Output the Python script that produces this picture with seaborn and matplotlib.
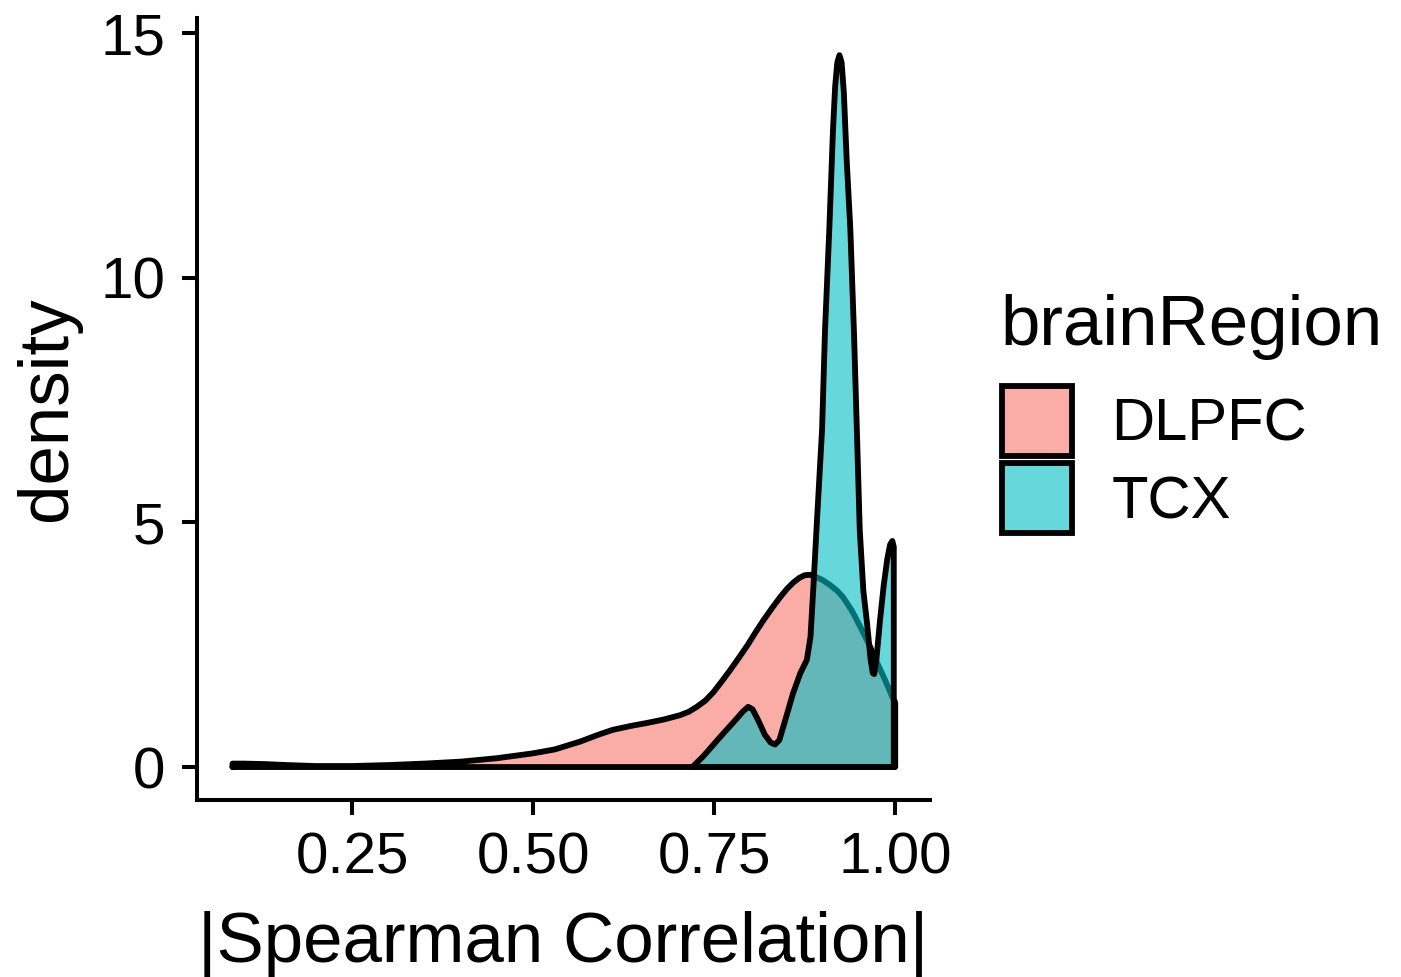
import numpy as np
import pandas as pd
import matplotlib
matplotlib.use("Agg")
import matplotlib.pyplot as plt
import seaborn as sns
from matplotlib.patches import Patch
from matplotlib.colors import to_rgba

# ---- data ----
regions = ["DLPFC", "TCX"]
region_colors = ["#F8766D", "#00BFC4"]

dlpfc_x = [0.085, 0.10, 0.13, 0.16, 0.20, 0.25, 0.30, 0.35, 0.40, 0.45, 0.50,
           0.53, 0.565, 0.59, 0.61, 0.635, 0.657, 0.68, 0.703, 0.715, 0.726,
           0.738, 0.749, 0.76, 0.772, 0.784, 0.796, 0.807, 0.818, 0.83, 0.841,
           0.851, 0.86, 0.868, 0.875, 0.882, 0.89, 0.90, 0.91, 0.92, 0.928,
           0.94, 0.952, 0.964, 0.975, 0.986, 0.996, 1.0]
dlpfc_y = [0.07, 0.07, 0.06, 0.04, 0.02, 0.02, 0.04, 0.07, 0.11, 0.18, 0.28,
           0.36, 0.52, 0.66, 0.76, 0.84, 0.90, 0.97, 1.06, 1.13, 1.23,
           1.36, 1.53, 1.74, 1.98, 2.23, 2.49, 2.75, 3.0, 3.25, 3.47,
           3.65, 3.78, 3.87, 3.92, 3.93, 3.89, 3.82, 3.72, 3.60, 3.47,
           3.20, 2.86, 2.50, 2.13, 1.78, 1.43, 1.32]

tcx_x = [0.72, 0.735, 0.758, 0.78, 0.79, 0.797, 0.803, 0.81, 0.82, 0.828,
         0.834, 0.84, 0.848, 0.859, 0.869, 0.878, 0.883, 0.887, 0.892, 0.899,
         0.903, 0.909, 0.914, 0.917, 0.920, 0.923, 0.926, 0.929, 0.933, 0.938,
         0.943, 0.947, 0.951, 0.956, 0.961, 0.966, 0.969, 0.971, 0.974, 0.979,
         0.984, 0.989, 0.993, 0.996, 0.998]
tcx_y = [0.0, 0.22, 0.61, 0.97, 1.14, 1.23, 1.18, 0.98, 0.66, 0.50,
         0.46, 0.55, 0.95, 1.51, 1.92, 2.19, 2.66, 3.68, 5.05, 6.9,
         8.9, 11.0, 13.0, 13.9, 14.4, 14.55, 14.4, 13.8, 12.4, 11.0,
         8.9, 6.9, 4.85, 3.6, 2.95, 2.2, 1.92, 1.90, 2.2, 3.0,
         3.7, 4.25, 4.55, 4.62, 4.5]

x_ticks = [0.25, 0.50, 0.75, 1.00]
x_tick_labels = ["0.25", "0.50", "0.75", "1.00"]
y_ticks = [0, 5, 10, 15]
y_tick_labels = ["0", "5", "10", "15"]

# ---- style ----
sns.set_theme(style="ticks")
plt.rcParams["font.family"] = ["Liberation Sans", "DejaVu Sans"]
plt.rcParams["text.color"] = "black"
plt.rcParams["axes.labelcolor"] = "black"
plt.rcParams["xtick.color"] = "black"
plt.rcParams["ytick.color"] = "black"

W, H = 1401, 977
fig = plt.figure(figsize=(W / 100, H / 100), dpi=100)
fig.patch.set_facecolor("white")
ax = fig.add_axes([197 / W, 1 - 800 / H, (930 - 197) / W, (800 - 18) / H])
ax.set_facecolor("white")

LW = 4.2
series = [(dlpfc_x, dlpfc_y), (tcx_x, tcx_y)]
for i, (name, col, (xs, ys)) in enumerate(zip(regions, region_colors, series)):
    z = 2 + 2 * i
    ax.fill_between(xs, ys, 0, color=col, alpha=0.6, linewidth=0, zorder=z)
    ox = [xs[0]] + list(xs) + [xs[-1], xs[0]]
    oy = [0.0] + list(ys) + [0.0, 0.0]
    sns.lineplot(x=ox, y=oy, sort=False, estimator=None, color="black",
                 linewidth=LW, ax=ax, zorder=z + 1,
                 solid_joinstyle="round", solid_capstyle="round")

ax.set_xlim(0.036, 1.048)
ax.set_ylim(-0.674, 15.31)
ax.set_xticks(x_ticks)
ax.set_xticklabels(x_tick_labels)
ax.set_yticks(y_ticks)
ax.set_yticklabels(y_tick_labels)

sns.despine(ax=ax)
for s in ["left", "bottom"]:
    ax.spines[s].set_linewidth(2.9)
    ax.spines[s].set_color("black")
ax.tick_params(axis="both", length=11, width=2.9, color="black",
               labelsize=42, labelcolor="black", pad=12)
ax.grid(False)

ax.set_xlabel("|Spearman Correlation|", fontsize=51, color="black", labelpad=18)
ax.set_ylabel("density", fontsize=51, color="black", labelpad=14)

# legend: title as its own text, keys below it
fig.text(1000 / W, 1 - 345 / H, "brainRegion", fontsize=51, color="black",
         ha="left", va="baseline")
handles = [Patch(facecolor=to_rgba(c, 0.6), edgecolor="black", linewidth=LW)
           for c in region_colors]
leg = fig.legend(handles, regions, loc="upper left",
                 bbox_to_anchor=(1002 / W, 1 - 386 / H), frameon=False,
                 fontsize=43, handlelength=1.18, handleheight=1.427,
                 labelspacing=0.12, handletextpad=0.65,
                 borderpad=0, borderaxespad=0)
for t in leg.get_texts():
    t.set_color("black")

fig.savefig("out.png", dpi=100, facecolor="white")
